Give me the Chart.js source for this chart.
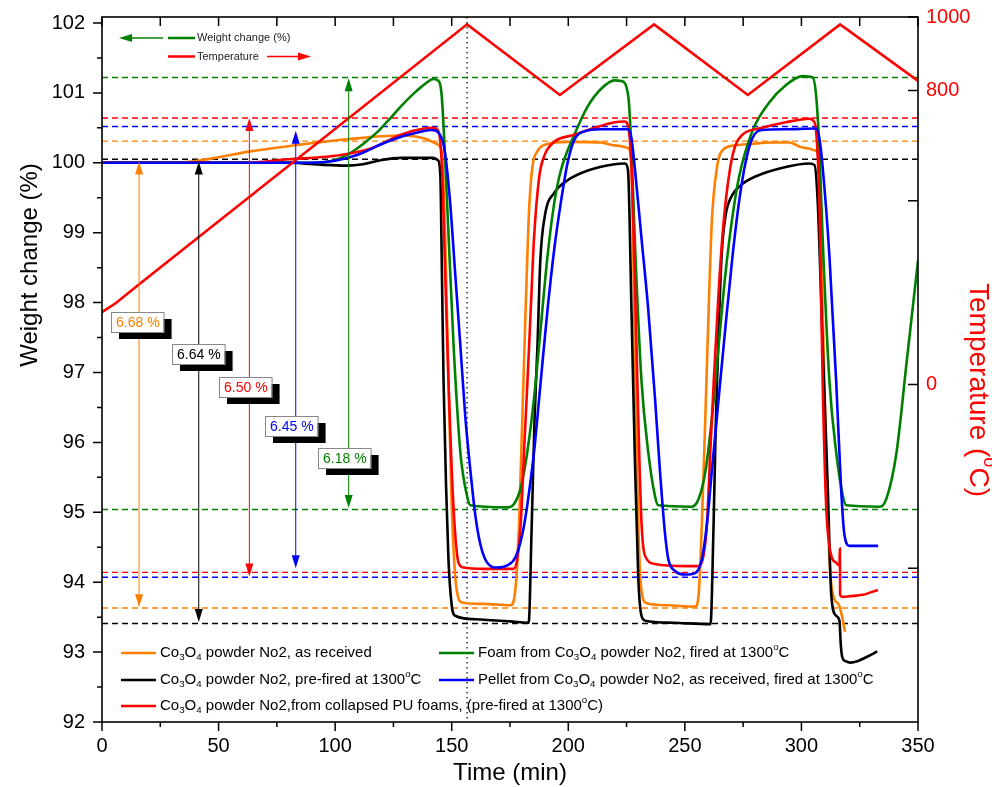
<!DOCTYPE html>
<html lang="en">
<head>
<meta charset="UTF-8">
<title>Weight change and temperature cycling</title>
<script src="https://cdn.jsdelivr.net/npm/chart.js"></script>
<style>
  html, body { margin: 0; padding: 0; background: #fff; }
  canvas { display: block; }
</style>
</head>
<body>
<canvas id="tgaChart" width="992" height="787"></canvas>
<script>
// time (min) and weight change (%)
const orangeT = [0, 30, 41, 50, 63, 83, 106, 128, 138, 143.6, 145.7, 147.2, 148.6, 150, 151.5, 152.9, 154.3, 163.7, 175.2, 177.4, 178.9, 180.3, 181.7, 183.2, 184.6, 186.8, 191.1, 199.7, 214.1, 219.9, 225.7, 227.1, 228.5, 230, 231.4, 233.6, 242.9, 254.4, 255.9, 257.3, 258.8, 260.2, 261.6, 263.8, 265.9, 271.7, 278.9, 286.1, 294.7, 300.5, 306.3, 307.7, 309.1, 310.6, 312, 314.2, 315.6, 316.8, 318.7];
const orangeW = [100, 100, 100.03, 100.08, 100.16, 100.25, 100.34, 100.39, 100.35, 100.27, 100.15, 98.92, 96.88, 95.1, 94.08, 93.77, 93.71, 93.69, 93.67, 93.93, 94.85, 96.38, 97.9, 99.33, 99.94, 100.17, 100.27, 100.30, 100.29, 100.25, 100.21, 99.94, 97.39, 94.85, 93.88, 93.70, 93.67, 93.65, 93.82, 94.85, 96.38, 97.9, 99.18, 99.94, 100.17, 100.25, 100.27, 100.29, 100.29, 100.22, 100.17, 99.94, 97.9, 95.86, 94.33, 93.75, 93.70, 93.6, 93.29];

const blackT = [0, 80, 95, 105, 112, 120, 128, 142, 144, 145.1, 145.8, 146.5, 147.6, 148.6, 150, 151.5, 160, 175, 183, 184.3, 185.5, 186.8, 188, 190, 194, 199.7, 208.4, 219.9, 224.3, 225.6, 227.1, 228.5, 230, 231.4, 233, 245, 261, 262.3, 263.3, 264.5, 265.8, 267.5, 270, 274, 280, 293.3, 303.3, 305.6, 307, 309.1, 311.3, 312.8, 314.9, 316.3, 316.9, 317.5, 319, 321, 324, 328, 332.5];
const blackW = [100, 100, 99.97, 99.96, 99.98, 100.04, 100.07, 100.07, 100.04, 99.84, 98.41, 96.88, 95.35, 94.33, 93.67, 93.52, 93.47, 93.44, 93.42, 94.8, 96.3, 97.4, 98.6, 99.25, 99.57, 99.75, 99.89, 99.98, 99.99, 99.9, 97.9, 95.86, 94.08, 93.52, 93.45, 93.42, 93.40, 94.8, 96.3, 97.6, 98.7, 99.25, 99.52, 99.68, 99.8, 99.94, 99.99, 99.97, 99.43, 97.39, 95.35, 93.82, 93.52, 93.45, 93.1, 92.93, 92.87, 92.85, 92.87, 92.93, 93.01];

const redT = [0, 60, 80, 100, 115, 128, 138, 142, 144.3, 145.8, 147.2, 148.6, 150, 151.5, 152.9, 155, 163.7, 176.5, 178.1, 179.6, 181, 182.5, 183.9, 185.3, 187.5, 189.7, 194, 202.6, 211.3, 219.9, 224.2, 225.6, 227.1, 228.5, 230, 231.4, 232.9, 237.2, 250.1, 255.9, 258, 259.5, 260.9, 262.4, 264.5, 266.7, 269.5, 271.7, 274.6, 283.2, 293.3, 303.4, 305.6, 307.7, 309.1, 310.6, 312.8, 314.9, 316.3, 316.5, 316.6, 317.5, 320.7, 326.4, 332.8];
const redW = [100, 100, 100.05, 100.1, 100.2, 100.4, 100.49, 100.5, 100.45, 99.94, 98.41, 96.88, 95.6, 94.69, 94.28, 94.21, 94.19, 94.19, 94.33, 94.84, 95.86, 96.88, 97.9, 98.92, 99.79, 100.10, 100.30, 100.40, 100.50, 100.58, 100.59, 100.53, 99.94, 98.41, 96.37, 94.85, 94.38, 94.26, 94.23, 94.23, 94.38, 94.85, 95.86, 96.88, 98.16, 99.18, 99.94, 100.25, 100.40, 100.50, 100.58, 100.63, 100.58, 99.43, 96.88, 95.1, 94.38, 94.28, 94.24, 94.48, 93.82, 93.79, 93.80, 93.82, 93.89];

const blueT = [0, 90, 100, 110, 120, 128, 135, 141, 145, 147.1, 149.3, 151.5, 153.7, 155.8, 158, 160.2, 162.3, 165.2, 169.5, 173.8, 177.4, 180.3, 182.4, 185.3, 188.2, 191.1, 194, 196.8, 199.7, 202.6, 206.9, 214.1, 225.7, 227.1, 228.5, 231.4, 234.3, 237.2, 239.3, 241.5, 242.9, 245.8, 250.1, 254.4, 257.3, 259.5, 261.6, 264.5, 267.4, 270.3, 273.2, 276, 278.9, 283.2, 293.3, 306.3, 307.7, 309.1, 312, 314.9, 317, 318.4, 320.7, 332.9];
const blueW = [100, 100, 100.03, 100.12, 100.27, 100.37, 100.43, 100.47, 100.40, 100.15, 99.44, 98.41, 97.39, 96.38, 95.6, 94.94, 94.54, 94.28, 94.21, 94.24, 94.36, 94.69, 95.1, 95.86, 96.88, 97.9, 98.77, 99.43, 100.0, 100.33, 100.45, 100.48, 100.48, 100.35, 99.94, 98.92, 97.9, 96.63, 95.6, 94.69, 94.33, 94.16, 94.11, 94.13, 94.33, 94.84, 95.6, 96.63, 97.65, 98.62, 99.43, 100, 100.35, 100.47, 100.48, 100.49, 100.35, 99.94, 98.67, 96.88, 95.35, 94.69, 94.52, 94.52];

const greenT = [0, 90, 100, 105.5, 112, 118.4, 124, 128, 134, 139, 142, 144, 145.7, 148, 150.8, 153.7, 156.6, 158, 173.7, 176.7, 179.6, 182.4, 185.3, 188.2, 191.1, 194, 196.8, 202.6, 208.4, 214.1, 219.9, 222.8, 225.7, 227.1, 228.5, 231.4, 234.3, 237.2, 238.6, 253, 256, 258.9, 261.7, 264.5, 267.4, 270.2, 273.2, 278.9, 286.1, 293.3, 300.5, 304.8, 306.3, 307.7, 309.1, 312, 314.9, 317.8, 319.2, 333.6, 336.5, 340.8, 345.1, 350];
const greenW = [100, 100, 100.04, 100.12, 100.27, 100.45, 100.65, 100.8, 101.0, 101.14, 101.2, 101.18, 100.96, 99.44, 97.39, 95.86, 95.23, 95.1, 95.07, 95.12, 95.35, 95.86, 96.63, 97.65, 98.67, 99.43, 99.89, 100.40, 100.81, 101.06, 101.18, 101.17, 100.96, 100.2, 98.92, 96.88, 95.86, 95.23, 95.1, 95.08, 95.2, 95.6, 96.38, 97.39, 98.41, 99.18, 99.79, 100.45, 100.86, 101.11, 101.24, 101.22, 100.96, 100.2, 98.92, 96.88, 95.86, 95.23, 95.1, 95.08, 95.2, 95.86, 97.14, 98.6];

// furnace temperature (°C), right axis
const tempT = [0, 6, 15.4, 156.6, 196.4, 236.8, 277, 316.6, 350];
const tempC = [197, 222, 270, 980, 788, 980, 788, 980, 826];

// axis ticks
const xTicks = [0, 50, 100, 150, 200, 250, 300, 350];
const yTicks = [92, 93, 94, 95, 96, 97, 98, 99, 100, 101, 102];
const y2Ticks = [0, 800, 1000];
const y2Marks = [1000, 800, 500, 0, -500];

// dashed reference levels per sample: orange, black, red, blue, green
const refColors = ['#ff8000', '#000000', '#ff0000', '#0000ff', '#008000'];
const refUpper = [100.31, 100.05, 100.64, 100.52, 101.22];
const refLower = [93.63, 93.41, 94.14, 94.07, 95.04];
const peakTime = 156.6;

// double arrows and their labels
const arrowT = [15.9, 41.5, 63.2, 83.1, 105.8];
const arrowTop = [100.02, 100.02, 100.64, 100.46, 101.21];
const arrowBottom = [93.64, 93.43, 94.08, 94.2, 95.06];
const arrowLabels = ['6.68 %', '6.64 %', '6.50 %', '6.45 %', '6.18 %'];
const labelT = [15.2, 41.4, 61.5, 81.3, 104];
const labelW = [97.72, 97.27, 96.79, 96.24, 95.77];

const FONT = '"Liberation Sans", Arial, sans-serif';

// '_' makes the next char a subscript, '^' a superscript
function parseRich(str) {
    const segs = [];
    let cur = '';
    for (let i = 0; i < str.length; i++) {
        const ch = str[i];
        if (ch === '_' || ch === '^') {
            if (cur) segs.push({ t: cur, k: 0 });
            cur = '';
            segs.push({ t: str[++i], k: ch === '_' ? 1 : -1 });
        } else {
            cur += ch;
        }
    }
    if (cur) segs.push({ t: cur, k: 0 });
    return segs;
}
function richWidth(ctx, str, size) {
    let w = 0;
    parseRich(str).forEach(s => {
        ctx.font = (s.k ? size * 0.65 : size) + 'px ' + FONT;
        w += ctx.measureText(s.t).width;
    });
    return w;
}
function drawRich(ctx, str, x, y, size, color) {
    ctx.fillStyle = color;
    ctx.textAlign = 'left';
    ctx.textBaseline = 'middle';
    let cx = x;
    parseRich(str).forEach(s => {
        const fs = s.k ? size * 0.65 : size;
        ctx.font = fs + 'px ' + FONT;
        const dy = s.k === 1 ? size * 0.3 : (s.k === -1 ? -size * 0.38 : 0);
        ctx.fillText(s.t, cx, y + dy);
        cx += ctx.measureText(s.t).width;
    });
}
function arrowHead(ctx, x, y, dx, dy, len, wid) {
    // tip at (x,y), pointing along (dx,dy)
    const px = -dy, py = dx;
    ctx.beginPath();
    ctx.moveTo(x, y);
    ctx.lineTo(x - dx * len + px * wid / 2, y - dy * len + py * wid / 2);
    ctx.lineTo(x - dx * len - px * wid / 2, y - dy * len - py * wid / 2);
    ctx.closePath();
    ctx.fill();
}

const refLines = {
    id: 'refLines',
    beforeDatasetsDraw(chart) {
        const { ctx, chartArea: a, scales: { x, y } } = chart;
        ctx.save();
        ctx.lineWidth = 1.4;
        ctx.setLineDash([6, 4]);
        refColors.forEach((c, i) => {
            ctx.strokeStyle = c;
            [refUpper[i], refLower[i]].forEach(v => {
                const py = y.getPixelForValue(v);
                ctx.beginPath();
                ctx.moveTo(a.left, py);
                ctx.lineTo(a.right, py);
                ctx.stroke();
            });
        });
        ctx.strokeStyle = '#333';
        ctx.lineWidth = 1.5;
        ctx.setLineDash([1.5, 3.5]);
        const px = x.getPixelForValue(peakTime);
        ctx.beginPath();
        ctx.moveTo(px, a.top);
        ctx.lineTo(px, a.bottom);
        ctx.stroke();
        ctx.restore();
    }
};

const annotations = {
    id: 'annotations',
    afterDatasetsDraw(chart) {
        const { ctx, scales: { x, y } } = chart;
        ctx.save();
        arrowT.forEach((t, i) => {
            const px = x.getPixelForValue(t);
            const top = y.getPixelForValue(arrowTop[i]);
            const bot = y.getPixelForValue(arrowBottom[i]);
            ctx.strokeStyle = refColors[i];
            ctx.fillStyle = refColors[i];
            ctx.lineWidth = 1;
            ctx.beginPath();
            ctx.moveTo(px, top + 6);
            ctx.lineTo(px, bot - 6);
            ctx.stroke();
            arrowHead(ctx, px, top, 0, -1, 13, 8);
            arrowHead(ctx, px, bot, 0, 1, 13, 8);
        });
        arrowLabels.forEach((txt, i) => {
            const cx = x.getPixelForValue(labelT[i]);
            const cy = y.getPixelForValue(labelW[i]);
            ctx.font = '14px ' + FONT;
            const w = ctx.measureText(txt).width + 9, h = 20;
            const l = Math.round(cx - w / 2), t = Math.round(cy - h / 2);
            ctx.fillStyle = '#000';
            ctx.fillRect(l + 8, t + 7, w, h);
            ctx.fillStyle = '#fff';
            ctx.fillRect(l, t, w, h);
            ctx.strokeStyle = '#888';
            ctx.lineWidth = 1;
            ctx.strokeRect(l + 0.5, t + 0.5, w, h);
            ctx.fillStyle = refColors[i];
            ctx.textAlign = 'center';
            ctx.textBaseline = 'middle';
            ctx.fillText(txt, l + w / 2 + 0.5, t + h / 2 + 1);
        });
        ctx.restore();
    }
};

const legendRows = [
    [160, 653, '#ff8000', 'Co_3O_4 powder No2, as received'],
    [478, 653, '#008000', 'Foam from Co_3O_4 powder No2, fired at 1300^oC'],
    [160, 680, '#000000', 'Co_3O_4 powder No2, pre-fired at 1300^oC'],
    [478, 680, '#0000ff', 'Pellet from Co_3O_4 powder No2, as received, fired at 1300^oC'],
    [160, 706, '#ff0000', 'Co_3O_4 powder No2,from collapsed PU foams, (pre-fired at 1300^oC)']
];

const decorations = {
    id: 'decorations',
    afterDraw(chart) {
        const { ctx, chartArea: a, scales: { x, y, y2 } } = chart;
        ctx.save();
        // frame
        ctx.strokeStyle = '#000';
        ctx.lineWidth = 1.6;
        ctx.setLineDash([]);
        ctx.strokeRect(a.left, a.top, a.right - a.left, a.bottom - a.top);
        // ticks
        ctx.lineWidth = 1.5;
        ctx.beginPath();
        for (let v = 92; v <= 102; v += 0.5) {
            const py = y.getPixelForValue(v);
            const len = Number.isInteger(v) ? 9 : 5;
            ctx.moveTo(a.left - len, py); ctx.lineTo(a.left, py);
        }
        for (let t = 0; t <= 350; t += 25) {
            const px = x.getPixelForValue(t);
            const len = t % 50 === 0 ? 9 : 5;
            ctx.moveTo(px, a.bottom); ctx.lineTo(px, a.bottom + len);
            ctx.moveTo(px, a.top); ctx.lineTo(px, a.top + 9);
        }
        y2Marks.forEach(v => {
            const py = y2.getPixelForValue(v);
            ctx.moveTo(a.right, py); ctx.lineTo(a.right - 10, py);
        });
        ctx.stroke();

        // axis titles
        const tsize = 24;
        ctx.save();
        ctx.translate(30, 265);
        ctx.rotate(-Math.PI / 2);
        drawRich(ctx, 'Weight change (%)', -richWidth(ctx, 'Weight change (%)', tsize) / 2, 0, tsize, '#000');
        ctx.restore();
        drawRich(ctx, 'Time (min)', 510 - richWidth(ctx, 'Time (min)', tsize) / 2, 773, tsize, '#000');
        ctx.save();
        ctx.translate(978, 390);
        ctx.rotate(Math.PI / 2);
        drawRich(ctx, 'Temperature (^oC)', -richWidth(ctx, 'Temperature (^oC)', 28) / 2, 0, 28, '#ff0000');
        ctx.restore();

        // small legend, top left
        ctx.lineWidth = 1.5;
        ctx.strokeStyle = '#008000'; ctx.fillStyle = '#008000';
        ctx.beginPath(); ctx.moveTo(128, 38); ctx.lineTo(163, 38); ctx.stroke();
        arrowHead(ctx, 119, 38, -1, 0, 13, 8);
        ctx.lineWidth = 2.5;
        ctx.beginPath(); ctx.moveTo(168, 38); ctx.lineTo(195, 38); ctx.stroke();
        ctx.strokeStyle = '#ff0000'; ctx.fillStyle = '#ff0000';
        ctx.beginPath(); ctx.moveTo(168, 56.5); ctx.lineTo(195, 56.5); ctx.stroke();
        ctx.lineWidth = 1.5;
        ctx.beginPath(); ctx.moveTo(267, 56.5); ctx.lineTo(302, 56.5); ctx.stroke();
        arrowHead(ctx, 311, 56.5, 1, 0, 13, 8);
        drawRich(ctx, 'Weight change (%)', 197, 38, 11, '#222');
        drawRich(ctx, 'Temperature', 197, 56.5, 11, '#222');

        // bottom legend
        legendRows.forEach(([tx, ty, c, txt]) => {
            ctx.strokeStyle = c;
            ctx.lineWidth = 2.5;
            ctx.beginPath();
            ctx.moveTo(tx - 39, ty); ctx.lineTo(tx - 4, ty);
            ctx.stroke();
            drawRich(ctx, txt, tx, ty, 15, '#000');
        });
        ctx.restore();
    }
};

const series = [
    { label: 'Temperature', t: tempT, v: tempC, color: '#ff0000', axis: 'y2' },
    { label: 'Pellet from Co3O4 powder No2, as received, fired at 1300°C', t: blueT, v: blueW, color: '#0000ff', axis: 'y' },
    { label: 'Co3O4 powder No2, from collapsed PU foams (pre-fired at 1300°C)', t: redT, v: redW, color: '#ff0000', axis: 'y' },
    { label: 'Foam from Co3O4 powder No2, fired at 1300°C', t: greenT, v: greenW, color: '#008000', axis: 'y' },
    { label: 'Co3O4 powder No2, pre-fired at 1300°C', t: blackT, v: blackW, color: '#000000', axis: 'y' },
    { label: 'Co3O4 powder No2, as received', t: orangeT, v: orangeW, color: '#ff8000', axis: 'y' }
];

const tickFont = { family: FONT, size: 20 };
function noPad(s) { s.paddingTop = 0; s.paddingBottom = 0; s.paddingLeft = 0; s.paddingRight = 0; }

new Chart(document.getElementById('tgaChart').getContext('2d'), {
    type: 'line',
    data: {
        datasets: series.map(s => ({
            label: s.label,
            data: s.t.map((t, i) => ({ x: t, y: s.v[i] })),
            borderColor: s.color,
            borderWidth: 2.6,
            pointRadius: 0,
            fill: false,
            yAxisID: s.axis,
            cubicInterpolationMode: s.axis === 'y' ? 'monotone' : 'default',
            tension: 0
        }))
    },
    options: {
        responsive: false,
        animation: false,
        devicePixelRatio: 1,
        layout: { padding: { top: 17, left: 0, right: 0, bottom: 0 } },
        plugins: { legend: { display: false }, tooltip: { enabled: false } },
        scales: {
            x: {
                type: 'linear', min: 0, max: 350,
                grid: { display: false, drawTicks: false },
                border: { display: false },
                ticks: { font: tickFont, color: '#000', padding: 12, maxRotation: 0, autoSkip: false },
                afterBuildTicks: s => { s.ticks = xTicks.map(v => ({ value: v })); },
                afterFit: s => { s.height = 65; noPad(s); }
            },
            y: {
                position: 'left', min: 92, max: 102.086,
                grid: { display: false, drawTicks: false },
                border: { display: false },
                ticks: { font: tickFont, color: '#000', padding: 17 },
                afterBuildTicks: s => { s.ticks = yTicks.map(v => ({ value: v })); },
                afterFit: s => { s.width = 102; noPad(s); }
            },
            y2: {
                position: 'right', min: -918, max: 1000,
                grid: { display: false, drawTicks: false },
                border: { display: false },
                ticks: { font: tickFont, color: '#ff0000', padding: 8, callback: v => String(v) },
                afterBuildTicks: s => { s.ticks = y2Ticks.map(v => ({ value: v })); },
                afterFit: s => { s.width = 74; noPad(s); }
            }
        }
    },
    plugins: [refLines, annotations, decorations]
});
</script>
</body>
</html>
